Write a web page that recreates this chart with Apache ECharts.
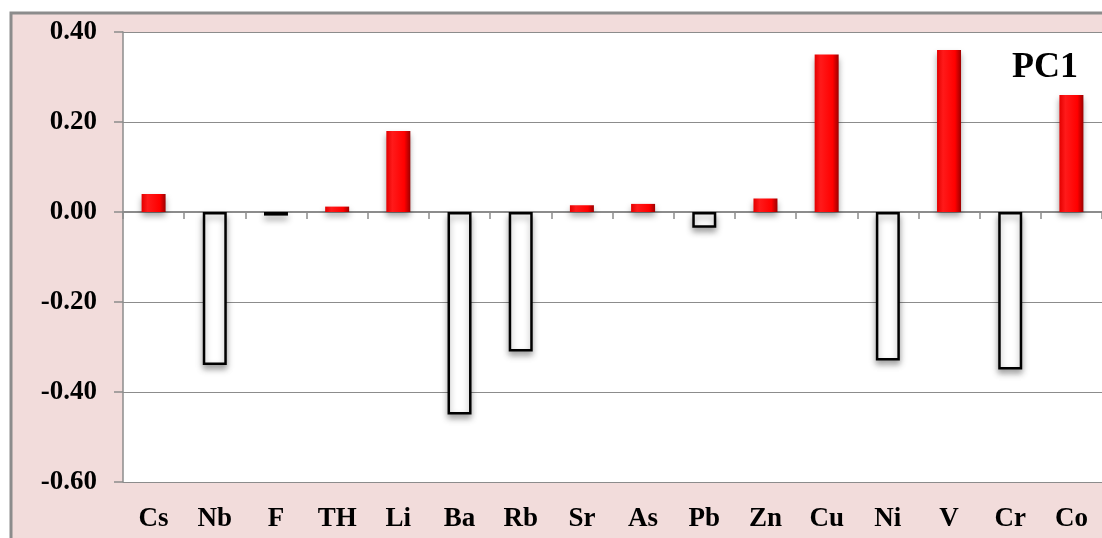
<!DOCTYPE html>
<html>
<head>
<meta charset="utf-8">
<script src="https://cdn.jsdelivr.net/npm/echarts@6/dist/echarts.min.js"></script>
<style>
  html, body { margin: 0; padding: 0; background: #fff; }
  #chart { width: 1102px; height: 538px; }
</style>
</head>
<body>
<div id="chart"></div>
<script>
// element loadings on PC1
var elements = ['Cs', 'Nb', 'F', 'TH', 'Li', 'Ba', 'Rb', 'Sr', 'As', 'Pb', 'Zn', 'Cu', 'Ni', 'V', 'Cr', 'Co'];
var loadings = [0.04, -0.34, -0.008, 0.012, 0.18, -0.45, -0.31, 0.015, 0.018, -0.035, 0.03, 0.35, -0.33, 0.36, -0.35, 0.26];
var yTicks = [-0.6, 0.4, 0.2];  // min, max, step

var chart = echarts.init(document.getElementById('chart'));

var redFill = new echarts.graphic.LinearGradient(0, 0, 1, 0, [
    {offset: 0, color: '#e40000'},
    {offset: 0.25, color: '#ff1a1a'},
    {offset: 0.75, color: '#ff0000'},
    {offset: 1, color: '#9c0000'}
]);

var barData = loadings.map(function (v) {
    if (v >= 0) {
        return {value: v, itemStyle: {color: redFill, borderWidth: 0}};
    }
    return {value: v, itemStyle: {color: '#fff', borderColor: '#000', borderWidth: 2.5}};
});

var serif = '"Liberation Serif", "Times New Roman", serif';

var option = {
    backgroundColor: '#fff',
    animation: false,
    graphic: [{
        type: 'rect',
        z: -10,
        shape: {x: 11, y: 13, width: 1100, height: 530},
        style: {fill: '#f2dcdb', stroke: '#8c8c8c', lineWidth: 3}
    }, {
        type: 'text',
        left: 1012,
        top: 50,
        z: 10,
        style: {text: 'PC1', font: 'bold 36px ' + serif, fill: '#000'}
    }],
    grid: {
        left: 123, top: 32, right: 0, bottom: 56,
        show: true, backgroundColor: '#fff', borderWidth: 0
    },
    xAxis: [{
        type: 'category',
        data: elements,
        axisLine: {onZero: true, lineStyle: {color: '#8c8c8c', width: 2}},
        axisTick: {show: true, length: 7, lineStyle: {color: '#8c8c8c', width: 1.5}},
        axisLabel: {show: false}
    }, {
        type: 'category',
        data: elements,
        position: 'bottom',
        axisLine: {show: false},
        axisTick: {show: false},
        axisLabel: {
            margin: 24,
            fontFamily: serif, fontWeight: 'bold', fontSize: 27, color: '#000'
        }
    }],
    yAxis: {
        type: 'value',
        min: yTicks[0], max: yTicks[1], interval: yTicks[2],
        axisLine: {show: true, lineStyle: {color: '#8c8c8c', width: 1.5}},
        axisTick: {show: true, length: 9, lineStyle: {color: '#8c8c8c', width: 1.5}},
        splitLine: {lineStyle: {color: '#8c8c8c', width: 1.2}},
        axisLabel: {
            margin: 26,
            fontFamily: serif, fontWeight: 'bold', fontSize: 27, color: '#000',
            formatter: function (v) { return v.toFixed(2); }
        }
    },
    series: [{
        type: 'bar',
        xAxisIndex: 0,
        barWidth: 24,
        data: barData,
        itemStyle: {
            shadowColor: 'rgba(0,0,0,0.35)',
            shadowBlur: 6,
            shadowOffsetY: 4
        }
    }]
};

chart.setOption(option);
</script>
</body>
</html>
